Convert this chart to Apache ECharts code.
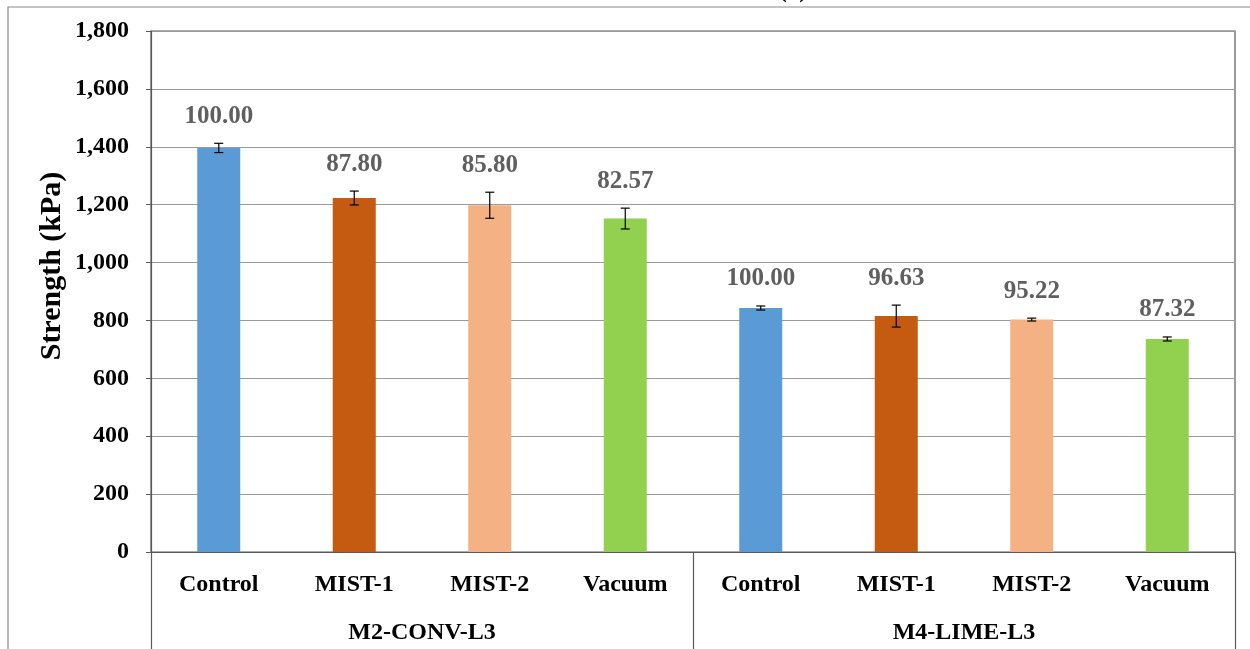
<!DOCTYPE html>
<html>
<head>
<meta charset="utf-8">
<title>Strength (kPa)</title>
<script src="https://cdn.jsdelivr.net/npm/echarts@6/dist/echarts.min.js"></script>
<style>
  html, body { margin: 0; padding: 0; background: #ffffff; }
  #chart { width: 1250px; height: 649px; }
</style>
</head>
<body>
<div id="chart"></div>
<script>
// Treatment categories, grouped by mix
const categories = ['Control', 'MIST-1', 'MIST-2', 'Vacuum', 'Control', 'MIST-1', 'MIST-2', 'Vacuum'];
const groups = ['M2-CONV-L3', 'M4-LIME-L3'];

// Mean strength (kPa) and error half-width (kPa)
const strength = [1396, 1223, 1198, 1152, 843, 815, 803, 736];
const errorBar = [16, 24, 45, 36, 7, 38, 5, 7];

// Strength retained relative to each group's control (%)
const retained = ['100.00', '87.80', '85.80', '82.57', '100.00', '96.63', '95.22', '87.32'];

// Y axis ticks
const yMin = 0, yMax = 1800, yStep = 200;

const barColors = ['#5B9BD5', '#C55A11', '#F4B183', '#92D050', '#5B9BD5', '#C55A11', '#F4B183', '#92D050'];

const FONT = '"Liberation Serif", "Times New Roman", serif';

const chart = echarts.init(document.getElementById('chart'), null, { renderer: 'canvas' });

function fmtThousands(v) {
  return String(v).replace(/\B(?=(\d{3})+(?!\d))/g, ',');
}

const option = {
  backgroundColor: '#ffffff',
  animation: false,
  graphic: [
    {
      type: 'rect',
      shape: { x: 8, y: 7, width: 1300, height: 700 },
      style: { fill: 'none', stroke: '#8a8a8a', lineWidth: 1.2 },
      z: 0
    },
    {
      type: 'text',
      x: 793, y: -9,
      style: {
        text: '(a)', fill: '#000', font: 'bold 25px ' + FONT,
        textAlign: 'center', textVerticalAlign: 'middle'
      }
    },
    {
      type: 'text',
      x: 52, y: 266,
      rotation: Math.PI / 2,
      style: {
        text: 'Strength (kPa)', fill: '#000', font: 'bold 30px ' + FONT,
        textAlign: 'center', textVerticalAlign: 'middle'
      }
    }
  ],
  grid: {
    left: 151, right: 15, top: 31, bottom: 97,
    show: true, borderColor: '#595959', borderWidth: 1.2,
    containLabel: false
  },
  xAxis: [
    {
      type: 'category',
      data: categories,
      position: 'bottom',
      axisLine: { show: true, lineStyle: { color: '#595959', width: 1.2 } },
      axisTick: { show: false },
      axisLabel: {
        interval: 0, margin: 21, color: '#000',
        fontFamily: FONT, fontWeight: 'bold', fontSize: 24
      },
      splitLine: { show: false }
    },
    {
      type: 'category',
      data: groups,
      position: 'bottom',
      offset: 0,
      axisLine: { show: false },
      axisTick: { show: true, length: 100, lineStyle: { color: '#595959', width: 1.2 } },
      axisLabel: {
        interval: 0, margin: 69, color: '#000',
        fontFamily: FONT, fontWeight: 'bold', fontSize: 24
      },
      splitLine: { show: false }
    }
  ],
  yAxis: {
    type: 'value',
    min: yMin, max: yMax, interval: yStep,
    axisLine: { show: true, lineStyle: { color: '#595959', width: 1.2 } },
    axisTick: { show: true, inside: false, length: 5, lineStyle: { color: '#595959' } },
    axisLabel: {
      margin: 22, color: '#000',
      fontFamily: FONT, fontWeight: 'bold', fontSize: 24,
      formatter: v => fmtThousands(v)
    },
    splitLine: { show: true, lineStyle: { color: '#9a9a9a', width: 1.2 } }
  },
  series: [
    {
      type: 'bar',
      xAxisIndex: 0,
      barWidth: 43,
      data: strength.map((v, i) => ({ value: v, itemStyle: { color: barColors[i] } })),
      z: 2
    },
    {
      // error bars with the retained-strength label above each
      type: 'custom',
      xAxisIndex: 0,
      z: 3,
      data: strength.map((v, i) => [i, v, errorBar[i], retained[i]]),
      renderItem: function (params, api) {
        const i = api.value(0);
        const v = api.value(1);
        const e = api.value(2);
        const top = api.coord([i, v + e]);
        const bot = api.coord([i, v - e]);
        const x = top[0];
        const cap = 4.5;
        const line = { stroke: '#000', lineWidth: 1.2 };
        return {
          type: 'group',
          children: [
            { type: 'line', shape: { x1: x, y1: top[1], x2: x, y2: bot[1] }, style: line },
            { type: 'line', shape: { x1: x - cap, y1: top[1], x2: x + cap, y2: top[1] }, style: line },
            { type: 'line', shape: { x1: x - cap, y1: bot[1], x2: x + cap, y2: bot[1] }, style: line },
            {
              type: 'text',
              x: x, y: top[1] - 27,
              style: {
                text: retained[params.dataIndex],
                fill: '#5f5f5f',
                font: 'bold 25px ' + FONT,
                textAlign: 'center', textVerticalAlign: 'middle'
              }
            }
          ]
        };
      }
    }
  ]
};

chart.setOption(option);
</script>
</body>
</html>
